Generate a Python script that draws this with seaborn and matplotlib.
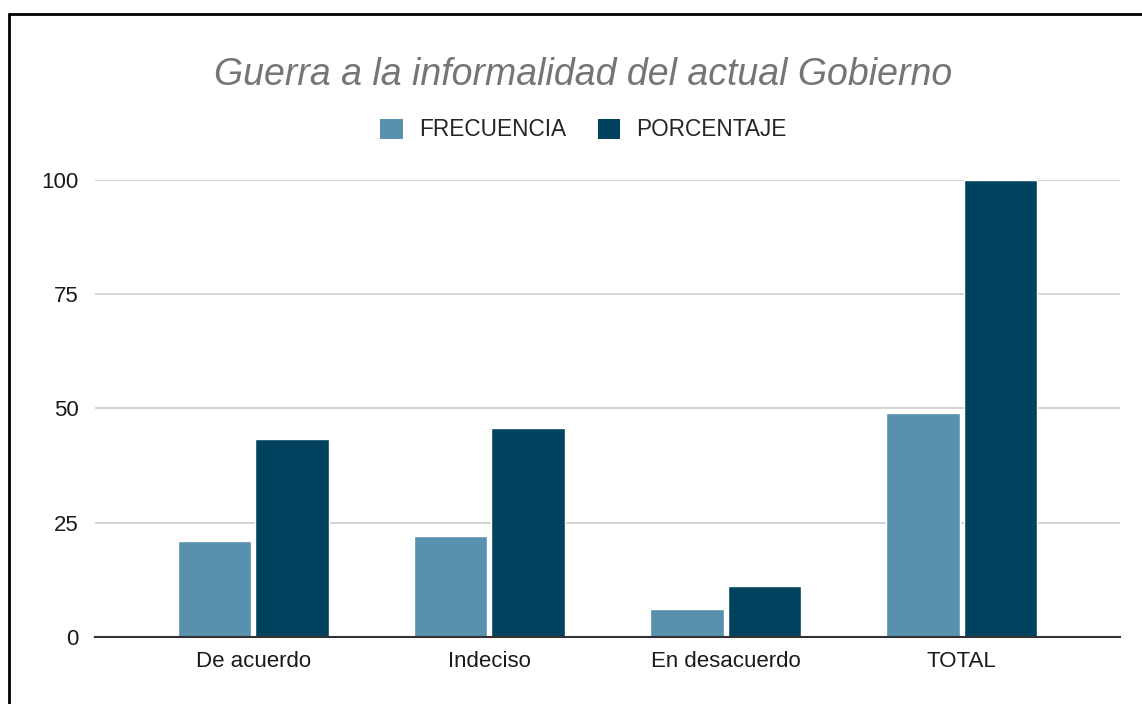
import matplotlib
matplotlib.use("Agg")

import pandas as pd
import matplotlib.pyplot as plt
import seaborn as sns
from matplotlib.lines import Line2D

categories = ["De acuerdo", "Indeciso", "En desacuerdo", "TOTAL"]
frecuencia = [21, 22, 6, 49]
porcentaje = [43.2, 45.6, 11.2, 100]
series = ["FRECUENCIA", "PORCENTAJE"]
colors = ["#5891ad", "#01425e"]
yticks = [0, 25, 50, 75, 100]

df = pd.DataFrame({
    "categoria": categories * 2,
    "serie": [series[0]] * len(categories) + [series[1]] * len(categories),
    "valor": frecuencia + porcentaje,
})

sns.set_style("white")
plt.rcParams["font.family"] = ["Liberation Sans", "DejaVu Sans"]

fig = plt.figure(figsize=(11.42, 7.04), dpi=100)
ax = fig.add_axes([0.0832, 0.0956, 0.8975, 0.6487])

sns.barplot(data=df, x="categoria", y="valor", hue="serie",
            palette=colors, width=0.655, gap=0.05, saturation=1,
            ax=ax, legend=False)

ax.set_xlim(-0.67, 3.67)
ax.set_ylim(0, 100)
ax.set_yticks(yticks)
ax.set_xlabel("")
ax.set_ylabel("")
ax.yaxis.grid(True, color="#cccccc", linewidth=1.2)
ax.set_axisbelow(True)
for side in ["top", "right", "left"]:
    ax.spines[side].set_visible(False)
ax.spines["bottom"].set_color("#333333")
ax.spines["bottom"].set_linewidth(1.5)
ax.spines["bottom"].set_zorder(5)
ax.tick_params(axis="both", length=0, labelsize=16, colors="#1a1a1a")
ax.tick_params(axis="y", pad=12)
ax.tick_params(axis="x", pad=10)

fig.text(0.511, 0.894, "Guerra a la informalidad del actual Gobierno",
         ha="center", va="center", fontsize=27, style="italic", color="#757575")

handles = [plt.Rectangle((0, 0), 1, 1, facecolor=c, edgecolor="none") for c in colors]
fig.legend(handles, series, loc="center", bbox_to_anchor=(0.511, 1 - 130 / 704),
           ncol=2, frameon=False, fontsize=16.3, handlelength=1.0, handleheight=1.0,
           handletextpad=0.7, columnspacing=1.4)

# marco negro arriba y a la izquierda (captura recortada)
fig.add_artist(Line2D([9 / 1142, 1], [1 - 14 / 704, 1 - 14 / 704],
                      color="black", linewidth=2, transform=fig.transFigure))
fig.add_artist(Line2D([9 / 1142, 9 / 1142], [0, 1 - 14 / 704],
                      color="black", linewidth=2, transform=fig.transFigure))

plt.savefig("out.png", dpi=100)
plt.close()
